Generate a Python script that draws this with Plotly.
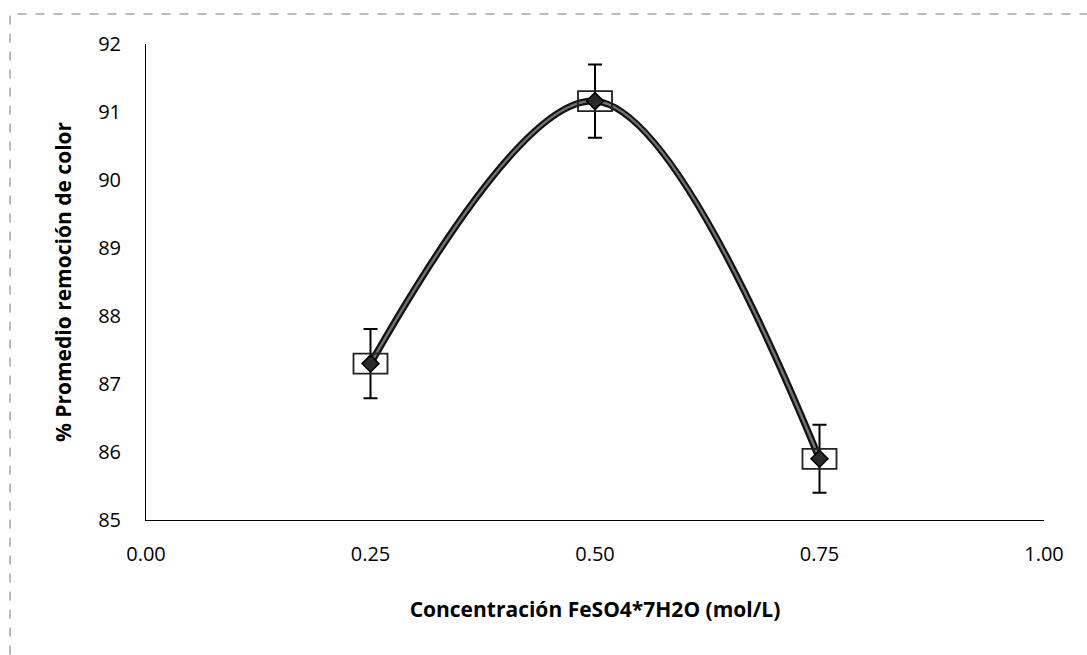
import plotly.graph_objects as go

# Average colour removal vs. FeSO4*7H2O dose
conc = [0.25, 0.50, 0.75]
removal = [87.30, 91.16, 85.90]
err = [0.51, 0.54, 0.50]

x_ticks = [0.00, 0.25, 0.50, 0.75, 1.00]
x_labels = ["0.00", "0.25", "0.50", "0.75", "1.00"]
y_ticks = [85, 86, 87, 88, 89, 90, 91, 92]

tick_font = "Open Sans, sans-serif"
title_font = "Open Sans, sans-serif"

fig = go.Figure()

# smoothed curve: dark outline with lighter core
fig.add_trace(go.Scatter(
    x=conc, y=removal, mode="lines",
    line=dict(color="#111111", width=7, shape="spline", smoothing=1.0),
    hoverinfo="skip", showlegend=False,
))
fig.add_trace(go.Scatter(
    x=conc, y=removal, mode="lines",
    line=dict(color="#707070", width=2.5, shape="spline", smoothing=1.0),
    hoverinfo="skip", showlegend=False,
))

# points with error bars
fig.add_trace(go.Scatter(
    x=conc, y=removal, mode="markers",
    marker=dict(symbol="diamond", size=13, color="#2a2a2a",
                line=dict(width=1.5, color="#000000")),
    error_y=dict(type="data", array=err, visible=True,
                 color="#000000", thickness=2, width=7),
    showlegend=False,
))

# rectangular open boxes around each point (pixel-sized, anchored at the data)
for xv, yv in zip(conc, removal):
    fig.add_shape(type="rect", xref="x", yref="y",
                  xsizemode="pixel", ysizemode="pixel",
                  xanchor=xv, yanchor=yv,
                  x0=-17, x1=17, y0=-10, y1=10,
                  line=dict(color="#222222", width=1.8),
                  fillcolor="rgba(0,0,0,0)")

fig.update_layout(
    width=1087, height=655,
    margin=dict(l=146, r=43, t=44, b=135),
    paper_bgcolor="white", plot_bgcolor="white",
    font=dict(family=tick_font, color="#000000", size=20),
    xaxis=dict(
        range=[0, 1], tickvals=x_ticks, ticktext=x_labels,
        showgrid=False, zeroline=False, showline=True,
        linecolor="#000000", linewidth=1, ticks="",
        ticklabelstandoff=16,
        tickfont=dict(size=20),
        title=dict(text="<b>Concentración FeSO4*7H2O (mol/L)</b>",
                   font=dict(family=title_font, size=21), standoff=36),
    ),
    yaxis=dict(
        range=[85, 92], tickvals=y_ticks,
        showgrid=False, zeroline=False, showline=True,
        linecolor="#000000", linewidth=1, ticks="",
        ticklabelstandoff=20,
        tickfont=dict(size=20),
        title=dict(text="<b>% Promedio remoción de color</b>",
                   font=dict(family=title_font, size=21), standoff=20),
    ),
)

# thin dashed frame around the chart
fig.add_shape(type="rect", xref="paper", yref="paper",
              x0=-0.1514, x1=1.07, y0=-0.3, y1=1.063,
              line=dict(color="#777777", width=1, dash="dash"))

fig.write_html("out.html")
